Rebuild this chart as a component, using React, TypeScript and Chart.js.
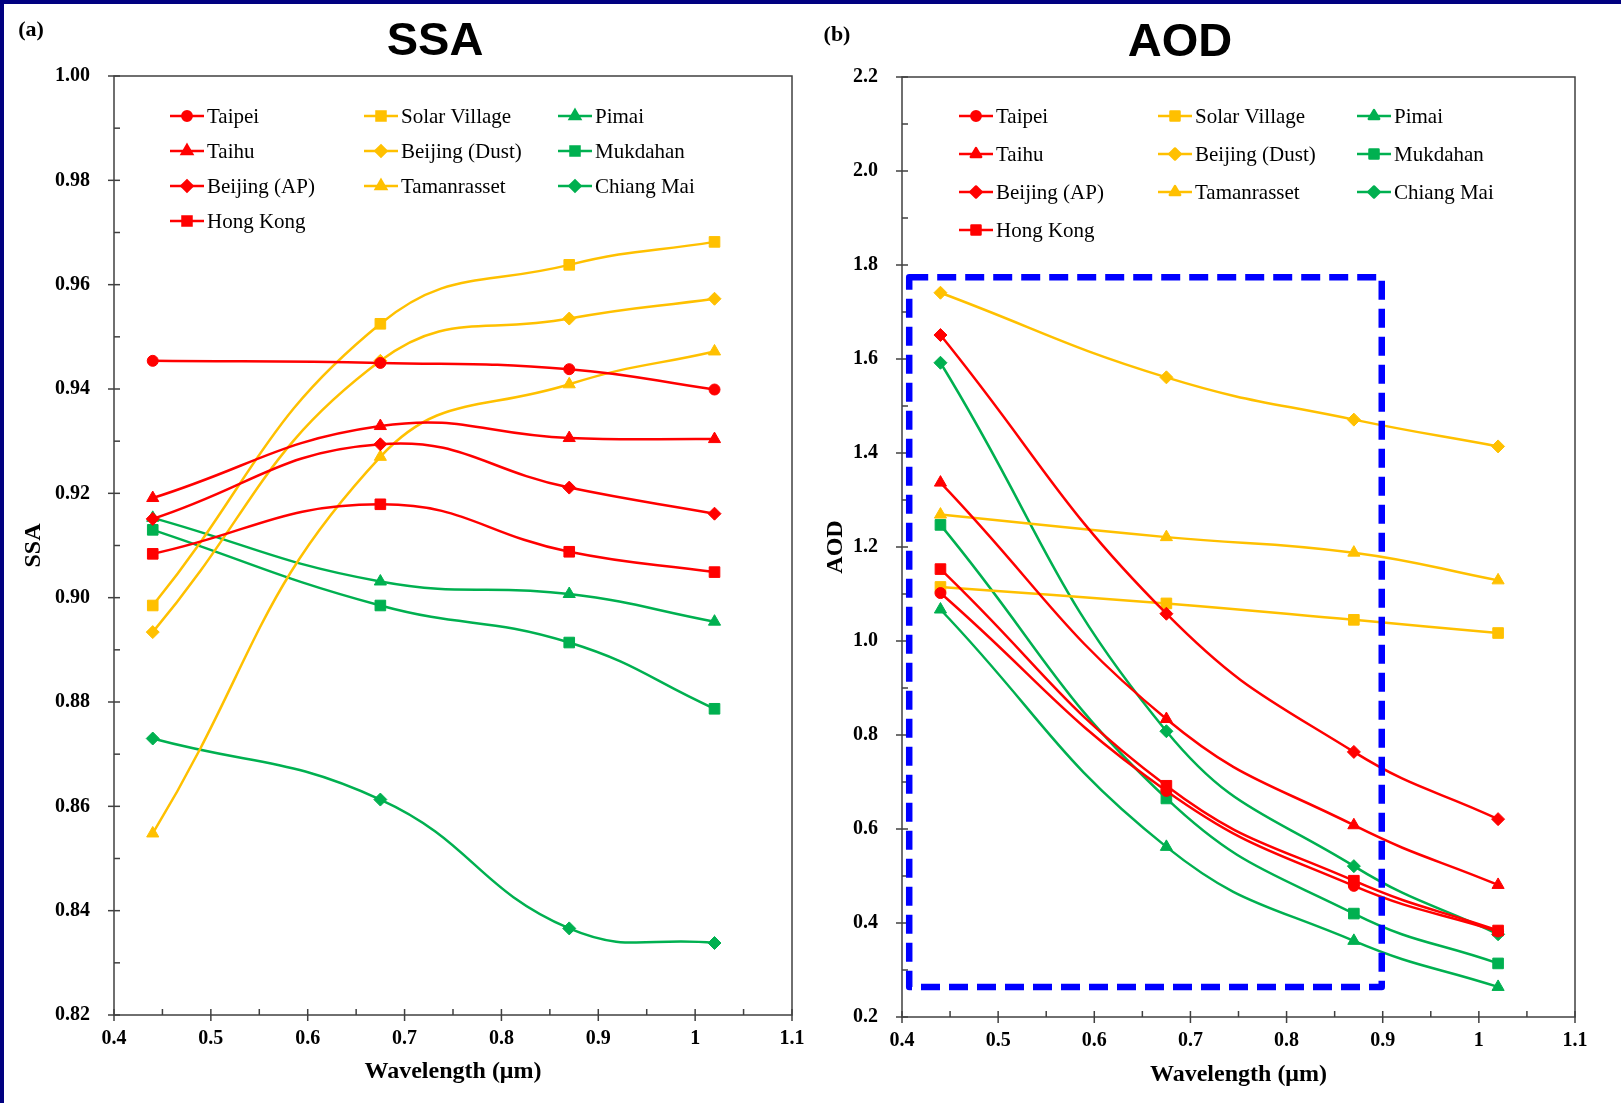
import React, { useEffect, useRef } from 'react';
import { Chart, registerables } from 'chart.js';
import { drawPoint } from 'chart.js/helpers';

Chart.register(...registerables);

// ---------- data ----------
const wavelengths = [0.44, 0.675, 0.87, 1.02];

const seriesNames = [
  'Taipei', 'Taihu', 'Beijing (AP)', 'Hong Kong',
  'Solar Village', 'Beijing (Dust)', 'Tamanrasset',
  'Pimai', 'Mukdahan', 'Chiang Mai',
];
const RED = '#FF0000';
const YELLOW = '#FFC000';
const GREEN = '#00B050';
const seriesColors = [RED, RED, RED, RED, YELLOW, YELLOW, YELLOW, GREEN, GREEN, GREEN];
const seriesMarkers = ['circle', 'triangle', 'rectRot', 'rect', 'rect', 'rectRot', 'triangle', 'triangle', 'rect', 'rectRot'];
const legendColumns = [[0, 1, 2, 3], [4, 5, 6], [7, 8, 9]];

// SSA
const ssaTaipei = [0.9454, 0.9450, 0.9438, 0.9399];
const ssaTaihu = [0.9191, 0.9329, 0.9306, 0.9304];
const ssaBeijingAP = [0.9151, 0.9294, 0.9211, 0.9161];
const ssaHongKong = [0.9084, 0.9179, 0.9088, 0.9049];
const ssaSolarVillage = [0.8985, 0.9525, 0.9638, 0.9682];
const ssaBeijingDust = [0.8934, 0.9454, 0.9535, 0.9573];
const ssaTamanrasset = [0.8548, 0.9270, 0.9409, 0.9472];
const ssaPimai = [0.9153, 0.9031, 0.9007, 0.8954];
const ssaMukdahan = [0.9130, 0.8985, 0.8914, 0.8787];
const ssaChiangMai = [0.8730, 0.8613, 0.8366, 0.8338];

// AOD
const aodTaipei = [1.102, 0.681, 0.479, 0.382];
const aodTaihu = [1.337, 0.834, 0.608, 0.481];
const aodBeijingAP = [1.651, 1.058, 0.764, 0.621];
const aodHongKong = [1.153, 0.692, 0.490, 0.384];
const aodSolarVillage = [1.115, 1.080, 1.045, 1.017];
const aodBeijingDust = [1.741, 1.561, 1.471, 1.414];
const aodTamanrasset = [1.269, 1.221, 1.188, 1.129];
const aodPimai = [1.067, 0.562, 0.362, 0.264];
const aodMukdahan = [1.247, 0.665, 0.420, 0.314];
const aodChiangMai = [1.592, 0.808, 0.521, 0.376];

const ssaSeries = [ssaTaipei, ssaTaihu, ssaBeijingAP, ssaHongKong, ssaSolarVillage, ssaBeijingDust, ssaTamanrasset, ssaPimai, ssaMukdahan, ssaChiangMai];
const aodSeries = [aodTaipei, aodTaihu, aodBeijingAP, aodHongKong, aodSolarVillage, aodBeijingDust, aodTamanrasset, aodPimai, aodMukdahan, aodChiangMai];

// highlighted region on AOD panel (data coordinates)
const aodBoxX = [0.4075, 0.899];
const aodBoxY = [0.264, 1.774];

// axis ranges
const xRange = [0.4, 1.1];
const xStep = 0.1;
const ssaRange = [0.82, 1.0];
const ssaStep = 0.02;
const aodRange = [0.2, 2.2];
const aodStep = 0.2;

// ---------- styling helpers ----------
const markerRadius: Record<string, number> = { circle: 5.5, triangle: 7, rectRot: 6.5, rect: 7.5 };
const SERIF = '"Liberation Serif", "Times New Roman", serif';
const SANS = '"Liberation Sans", Arial, sans-serif';

function buildDatasets(values: number[][]) {
  return values.map((vals, i) => ({
    label: seriesNames[i],
    data: wavelengths.map((w, j) => ({ x: w, y: vals[j] })),
    borderColor: seriesColors[i],
    backgroundColor: seriesColors[i],
    borderWidth: 2.5,
    pointStyle: seriesMarkers[i],
    pointRadius: markerRadius[seriesMarkers[i]],
    pointBorderWidth: 1,
    tension: 0.45,
    fill: false,
  }));
}

const decorPlugin = {
  id: 'decor',
  afterDatasetsDraw(chart: any, _args: any, o: any) {
    const { ctx, chartArea: a, scales } = chart;
    const xs = scales.x;
    const ys = scales.y;
    ctx.save();

    // frame
    ctx.strokeStyle = '#404040';
    ctx.lineWidth = 1.5;
    ctx.setLineDash([]);
    ctx.strokeRect(a.left, a.top, a.right - a.left, a.bottom - a.top);

    const seg = (x1: number, y1: number, x2: number, y2: number) => {
      ctx.beginPath();
      ctx.moveTo(x1, y1);
      ctx.lineTo(x2, y2);
      ctx.stroke();
    };
    // x ticks
    const xv = xs.ticks.map((t: any) => t.value);
    xv.forEach((v: number, i: number) => {
      const px = xs.getPixelForValue(v);
      seg(px, a.bottom - 6, px, a.bottom + 6);
      if (i < xv.length - 1) {
        const mx = xs.getPixelForValue((v + xv[i + 1]) / 2);
        seg(mx, a.bottom - 6, mx, a.bottom);
      }
    });
    // y ticks
    const yv = ys.ticks.map((t: any) => t.value);
    yv.forEach((v: number, i: number) => {
      const py = ys.getPixelForValue(v);
      seg(a.left - 6, py, a.left + 6, py);
      if (i < yv.length - 1) {
        const my = ys.getPixelForValue((v + yv[i + 1]) / 2);
        seg(a.left, my, a.left + 6, my);
      }
    });

    // highlight box
    if (o.box) {
      const x1 = xs.getPixelForValue(o.box.x[0]);
      const x2 = xs.getPixelForValue(o.box.x[1]);
      const y1 = ys.getPixelForValue(o.box.y[1]);
      const y2 = ys.getPixelForValue(o.box.y[0]);
      ctx.strokeStyle = '#0000FF';
      ctx.lineWidth = 6.5;
      ctx.setLineDash([19, 9]);
      ctx.lineJoin = 'round';
      ctx.strokeRect(x1, y1, x2 - x1, y2 - y1);
      ctx.setLineDash([]);
    }

    // legend
    const lg = o.legend;
    ctx.font = `21px ${SERIF}`;
    ctx.textBaseline = 'middle';
    ctx.textAlign = 'left';
    legendColumns.forEach((col, c) => {
      col.forEach((idx, r) => {
        const x0 = lg.cols[c];
        const y0 = lg.top + r * lg.gap;
        const color = seriesColors[idx];
        ctx.strokeStyle = color;
        ctx.fillStyle = color;
        ctx.lineWidth = 2.5;
        seg(x0, y0, x0 + 34, y0);
        drawPoint(ctx, { pointStyle: seriesMarkers[idx], radius: markerRadius[seriesMarkers[idx]] * 0.85, rotation: 0, borderWidth: 1 } as any, x0 + 17, y0);
        ctx.fillStyle = '#000';
        ctx.fillText(seriesNames[idx], x0 + 37, y0 + 1);
      });
    });

    // panel label + title
    ctx.fillStyle = '#000';
    ctx.textAlign = 'center';
    ctx.font = `bold 22px ${SERIF}`;
    ctx.fillText(o.panel.text, o.panel.x, o.panel.y);
    ctx.font = `bold 47px ${SANS}`;
    ctx.fillText(o.title.text, o.title.x, o.title.y);

    ctx.restore();
  },
};

function makeConfig(p: any) {
  return {
    type: 'line',
    data: { datasets: buildDatasets(p.series) },
    plugins: [decorPlugin],
    options: {
      responsive: false,
      animation: false,
      layout: { padding: { top: p.top, right: p.right, bottom: 0, left: 0 } },
      plugins: {
        legend: { display: false },
        tooltip: { enabled: false },
        decor: { legend: p.legend, box: p.box, panel: p.panel, title: p.title },
      },
      scales: {
        x: {
          type: 'linear',
          min: xRange[0],
          max: xRange[1],
          grid: { display: false, drawTicks: false },
          border: { display: false },
          ticks: {
            stepSize: xStep,
            padding: 12,
            color: '#000',
            font: { family: SERIF, size: 20, weight: 'bold' },
            callback: (v: number) => String(Math.round(v * 10) / 10),
          },
          title: {
            display: true,
            text: 'Wavelength (μm)',
            color: '#000',
            font: { family: SERIF, size: 24, weight: 'bold' },
            padding: { top: 0, bottom: p.xTitlePad },
          },
          afterFit: (s: any) => {
            s.height = p.xAxisH;
            s.paddingLeft = 0;
            s.paddingRight = 0;
          },
        },
        y: {
          type: 'linear',
          min: p.yRange[0],
          max: p.yRange[1],
          grid: { display: false, drawTicks: false },
          border: { display: false },
          ticks: {
            stepSize: p.yStep,
            padding: 24,
            color: '#000',
            font: { family: SERIF, size: 20, weight: 'bold' },
            callback: (v: number) => v.toFixed(p.yDecimals),
          },
          title: {
            display: true,
            text: p.yTitle,
            color: '#000',
            font: { family: SERIF, size: 24, weight: 'bold' },
            padding: { top: p.yTitlePad, bottom: 0 },
          },
          afterFit: (s: any) => {
            s.width = p.yAxisW;
            s.paddingTop = 0;
            s.paddingBottom = 0;
          },
        },
      },
    },
  };
}

function ChartCanvas({ config, left, width }: { config: any; left: number; width: number }) {
  const ref = useRef<HTMLCanvasElement | null>(null);
  useEffect(() => {
    const chart = new Chart(ref.current as HTMLCanvasElement, config);
    return () => chart.destroy();
  }, []);
  return (
    <canvas
      ref={ref}
      width={width}
      height={1103}
      style={{ position: 'absolute', left, top: 0, width, height: 1103 }}
    />
  );
}

export default function App() {
  const ssaConfig = makeConfig({
    series: ssaSeries,
    yRange: ssaRange,
    yStep: ssaStep,
    yDecimals: 2,
    yTitle: 'SSA',
    top: 76,
    right: 18,
    yAxisW: 114,
    xAxisH: 88,
    xTitlePad: 17,
    yTitlePad: 19,
    legend: { cols: [170, 364, 558], top: 116, gap: 35 },
    panel: { text: '(a)', x: 31, y: 30 },
    title: { text: 'SSA', x: 435, y: 42 },
  });
  const aodConfig = makeConfig({
    series: aodSeries,
    yRange: aodRange,
    yStep: aodStep,
    yDecimals: 1,
    yTitle: 'AOD',
    top: 77,
    right: 46,
    yAxisW: 92,
    xAxisH: 86,
    xTitlePad: 14,
    yTitlePad: 11,
    legend: { cols: [149, 348, 547], top: 116, gap: 38 },
    box: { x: aodBoxX, y: aodBoxY },
    panel: { text: '(b)', x: 27, y: 35 },
    title: { text: 'AOD', x: 370, y: 43 },
  });
  return (
    <div style={{ position: 'absolute', left: 0, top: 0, width: 1621, height: 1103, background: '#fff', overflow: 'hidden' }}>
      <ChartCanvas config={ssaConfig} left={0} width={810} />
      <ChartCanvas config={aodConfig} left={810} width={811} />
      <div style={{ position: 'absolute', left: 0, top: 0, width: 1621, height: 4, background: '#000080' }} />
      <div style={{ position: 'absolute', left: 0, top: 0, width: 4, height: 1103, background: '#000080' }} />
    </div>
  );
}
